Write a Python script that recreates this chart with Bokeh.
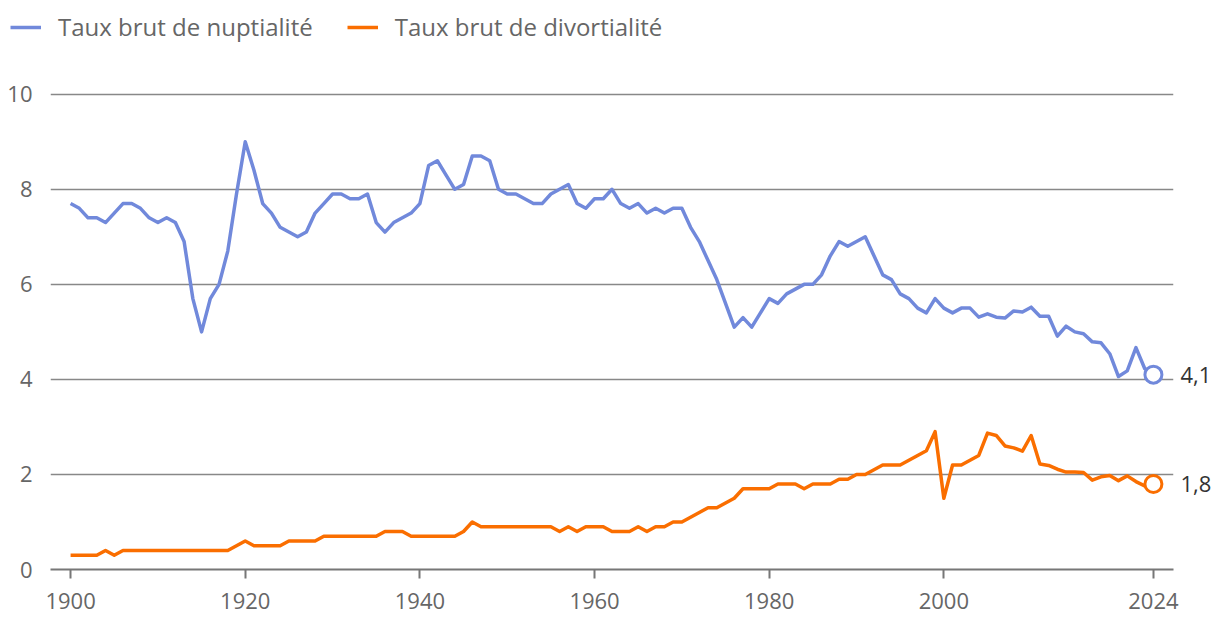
from bokeh.plotting import figure
from bokeh.layouts import column
from bokeh.models import (Range1d, FixedTicker, Legend, LegendItem, ColumnDataSource,
                          LinearAxis)
from bokeh.embed import file_html
from bokeh.resources import INLINE

years = list(range(1900, 2025))

nuptialite = [
    7.7, 7.6, 7.4, 7.4, 7.3, 7.5, 7.7, 7.7, 7.6, 7.4,
    7.3, 7.4, 7.3, 6.9, 5.7, 5.0, 5.7, 6.0, 6.7, 7.9,
    9.0, 8.4, 7.7, 7.5, 7.2, 7.1, 7.0, 7.1, 7.5, 7.7,
    7.9, 7.9, 7.8, 7.8, 7.9, 7.3, 7.1, 7.3, 7.4, 7.5,
    7.7, 8.5, 8.6, 8.3, 8.0, 8.1, 8.7, 8.7, 8.6, 8.0,
    7.9, 7.9, 7.8, 7.7, 7.7, 7.9, 8.0, 8.1, 7.7, 7.6,
    7.8, 7.8, 8.0, 7.7, 7.6, 7.7, 7.5, 7.6, 7.5, 7.6,
    7.6, 7.2, 6.9, 6.5, 6.1, 5.6, 5.1, 5.3, 5.1, 5.4,
    5.7, 5.6, 5.8, 5.9, 6.0, 6.0, 6.2, 6.6, 6.9, 6.8,
    6.9, 7.0, 6.6, 6.2, 6.1, 5.8, 5.7, 5.5, 5.4, 5.7,
    5.5, 5.4, 5.5, 5.5, 5.31, 5.38, 5.31, 5.29, 5.44, 5.42,
    5.52, 5.33, 5.33, 4.91, 5.12, 5.0, 4.96, 4.79, 4.77, 4.54,
    4.06, 4.18, 4.67, 4.23, 4.1,
]

divortialite = [
    0.3, 0.3, 0.3, 0.3, 0.4, 0.3, 0.4, 0.4, 0.4, 0.4,
    0.4, 0.4, 0.4, 0.4, 0.4, 0.4, 0.4, 0.4, 0.4, 0.5,
    0.6, 0.5, 0.5, 0.5, 0.5, 0.6, 0.6, 0.6, 0.6, 0.7,
    0.7, 0.7, 0.7, 0.7, 0.7, 0.7, 0.8, 0.8, 0.8, 0.7,
    0.7, 0.7, 0.7, 0.7, 0.7, 0.8, 1.0, 0.9, 0.9, 0.9,
    0.9, 0.9, 0.9, 0.9, 0.9, 0.9, 0.8, 0.9, 0.8, 0.9,
    0.9, 0.9, 0.8, 0.8, 0.8, 0.9, 0.8, 0.9, 0.9, 1.0,
    1.0, 1.1, 1.2, 1.3, 1.3, 1.4, 1.5, 1.7, 1.7, 1.7,
    1.7, 1.8, 1.8, 1.8, 1.7, 1.8, 1.8, 1.8, 1.9, 1.9,
    2.0, 2.0, 2.1, 2.2, 2.2, 2.2, 2.3, 2.4, 2.5, 2.9,
    1.5, 2.2, 2.2, 2.3, 2.4, 2.87, 2.82, 2.6, 2.56, 2.49,
    2.82, 2.22, 2.19, 2.11, 2.05, 2.05, 2.04, 1.88, 1.95, 1.98,
    1.87, 1.97, 1.85, 1.76, 1.8,
]

x_ticks = [1900, 1920, 1940, 1960, 1980, 2000, 2024]
y_ticks = [0, 2, 4, 6, 8, 10]
series_names = ["Taux brut de nuptialité", "Taux brut de divortialité"]
end_labels = ["4,1", "1,8"]

BLUE = "#7189db"
ORANGE = "#fa6e00"
FONT = "Open Sans"
W = 1214

# ---------- legend strip ----------
LH = 60
lg = figure(width=W, height=LH, output_backend="svg", toolbar_location=None,
            x_range=Range1d(0, 1), y_range=Range1d(0, 1),
            x_axis_location=None, y_axis_location=None,
            min_border_left=0, min_border_right=0, min_border_top=0, min_border_bottom=0)
lg.frame_align = False
lg.outline_line_color = None
lg.grid.grid_line_color = None
# legend keys only: their data lie outside the visible ranges
lr1 = lg.line(x=[5, 6], y=[5, 5], line_color=BLUE, line_width=3.5)
lr2 = lg.line(x=[5, 6], y=[5, 5], line_color=ORANGE, line_width=3.5)
legend = Legend(items=[LegendItem(label=series_names[0], renderers=[lr1]),
                       LegendItem(label=series_names[1], renderers=[lr2])],
                orientation="horizontal", location=(10, 17),
                border_line_color=None, background_fill_alpha=0,
                padding=0, margin=0, spacing=34, glyph_width=31, glyph_height=20,
                label_standoff=17, label_text_font=FONT, label_text_font_size="24px",
                label_text_color="#666666")
lg.add_layout(legend)

# ---------- main chart ----------
src = ColumnDataSource(dict(year=years, nup=nuptialite, div=divortialite))

p = figure(width=W, height=630 - LH, output_backend="svg", toolbar_location=None,
           x_range=Range1d(1897.7, 2026.3), y_range=Range1d(0, 10.1),
           min_border_left=50, min_border_right=38, min_border_top=89 - LH,
           min_border_bottom=61)
p.frame_align = False
p.outline_line_color = None
p.background_fill_color = "white"

p.xgrid.grid_line_color = None
p.ygrid.ticker = FixedTicker(ticks=y_ticks)
p.ygrid.grid_line_color = "#888888"
p.ygrid.grid_line_width = 1.5

p.xaxis.ticker = FixedTicker(ticks=x_ticks)
p.xaxis.minor_tick_line_color = None
p.xaxis.axis_line_color = "#777777"
p.xaxis.axis_line_width = 2
p.xaxis.major_tick_line_color = "#777777"
p.xaxis.major_tick_line_width = 2
p.xaxis.major_tick_out = 9
p.xaxis.major_tick_in = 0
p.xaxis.major_label_text_font = FONT
p.xaxis.major_label_text_font_size = "22px"
p.xaxis.major_label_text_color = "#666666"
p.xaxis.major_label_standoff = 14

p.yaxis.ticker = FixedTicker(ticks=y_ticks)
p.yaxis.axis_line_color = None
p.yaxis.major_tick_line_color = None
p.yaxis.minor_tick_line_color = None
p.yaxis.major_label_text_font = FONT
p.yaxis.major_label_text_font_size = "22px"
p.yaxis.major_label_text_color = "#666666"
p.yaxis.major_label_standoff = 12

p.line("year", "nup", source=src, line_color=BLUE, line_width=3.5, line_join="round")
p.line("year", "div", source=src, line_color=ORANGE, line_width=3.5, line_join="round")

last = dict(year=[years[-1]], nup=[nuptialite[-1]], div=[divortialite[-1]])
lsrc = ColumnDataSource(last)
p.scatter("year", "nup", source=lsrc, size=17, fill_color="white", line_color=BLUE, line_width=3)
p.scatter("year", "div", source=lsrc, size=17, fill_color="white", line_color=ORANGE, line_width=3)

end_vals = [nuptialite[-1], divortialite[-1]]
raxis = LinearAxis(ticker=FixedTicker(ticks=end_vals),
                   major_label_overrides={v: t for v, t in zip(end_vals, end_labels)})
raxis.axis_line_color = None
raxis.major_tick_line_color = None
raxis.minor_tick_line_color = None
raxis.major_label_standoff = 1
raxis.major_label_text_font = FONT
raxis.major_label_text_font_size = "22px"
raxis.major_label_text_color = "#333333"
p.add_layout(raxis, "right")

layout = column(lg, p, spacing=0)
open("out.html", "w").write(file_html(layout, INLINE))
